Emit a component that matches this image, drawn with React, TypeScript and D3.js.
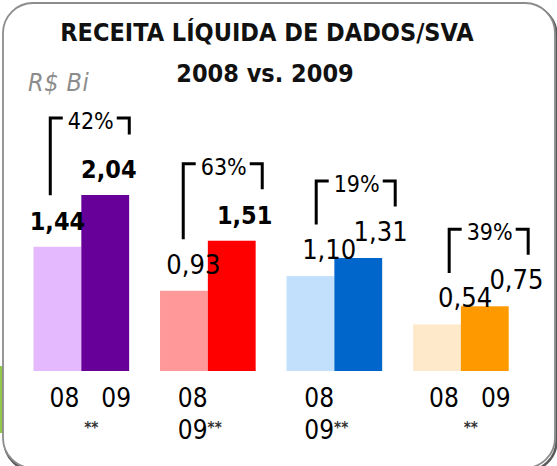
import React from "react";
import * as d3 from "d3";

const categories = ["G1", "G2", "G3", "G4"];
const series = ["08", "09"];
const values08 = [1.44, 0.93, 1.1, 0.54];
const values09 = [2.04, 1.51, 1.31, 0.75];
const valueLabels08 = ["1,44", "0,93", "1,10", "0,54"];
const valueLabels09 = ["2,04", "1,51", "1,31", "0,75"];
const growthLabels = ["42%", "63%", "19%", "39%"];
const lightColors = ["#E5B9FD", "#FF9999", "#C2E0FC", "#FFE9CB"];
const darkColors = ["#660099", "#FF0000", "#0066CC", "#FF9900"];
// category labels: two layouts (single line "08 09" + "**" below, or wrapped)
const catLabelWrapped = [false, true, true, false];
const titleLines = ["RECEITA LÍQUIDA DE DADOS/SVA", "2008 vs. 2009"];
const unitLabel = "R$ Bi";
const boldLabels = ["1,44", "2,04", "1,51"];

const W = 557;
const H = 466;
const FONT = "'DejaVu Sans Condensed', 'DejaVu Sans', sans-serif";

export default function App() {
  const x = d3.scaleBand<string>().domain(categories).range([33.5, 508.7]).paddingInner(0.244).paddingOuter(0);
  const xi = d3.scaleBand<string>().domain(series).range([0, x.bandwidth()]).padding(0);
  const y = d3.scaleLinear().domain([0, 2.04]).range([371, 195]);

  const labelX = (c: number) => c + (c - 57) * 0.074;
  const bracketX = (c: number) => c * 1.051 + 4.3;

  return (
    <svg width={W} height={H} style={{ position: "absolute", left: 0, top: 0, fontFamily: FONT, fontStretch: "condensed" }}>
      <rect x={0} y={0} width={W} height={H} fill="#fff" />
      {/* green strip at left */}
      <rect x={0} y={366} width={3} height={67} fill="#93C94A" />
      {/* frame with shadow */}
      <rect x={4.5} y={5} width={552} height={466} rx={30} ry={30} fill="none" stroke="#5a5a5a" strokeWidth={2.5} />
      <rect x={3} y={3} width={552} height={465} rx={30} ry={30} fill="#fff" stroke="#8c8c8c" strokeWidth={1.8} />

      {/* title */}
      <text x={267} y={41} textAnchor="middle" fontSize={25} fontWeight="bold" fill="#111">{titleLines[0]}</text>
      <text x={265} y={82} textAnchor="middle" fontSize={25} fontWeight="bold" fill="#111">{titleLines[1]}</text>
      <text x={28} y={91} fontSize={25} fontStyle="italic" fill="#8c8c8c" letterSpacing={0.5}>{unitLabel}</text>

      {categories.map((cat, i) => {
        const gx = x(cat)!;
        const gc = gx + x.bandwidth() / 2;
        const x08 = gx + xi("08")!;
        const x09 = gx + xi("09")!;
        const bw = xi.bandwidth();
        const c08 = x08 + bw / 2;
        const c09 = x09 + bw / 2;
        const top = y(values09[i]) - 77;
        const leftBottom = y(values08[i]) - 53;
        const rightBottom = top + (i === 0 ? 15 : 24);
        const bc = bracketX(gc);
        const bl = bc - 39.5;
        const br = bc + 39.5;
        const isB08 = boldLabels.includes(valueLabels08[i]);
        const isB09 = boldLabels.includes(valueLabels09[i]);
        return (
          <g key={cat}>
            <rect x={x08} y={y(values08[i])} width={bw} height={y(0) - y(values08[i])} fill={lightColors[i]} />
            <rect x={x09} y={y(values09[i])} width={bw} height={y(0) - y(values09[i])} fill={darkColors[i]} />
            <text x={labelX(c08)} y={y(values08[i]) - 17} textAnchor="middle" fontSize={isB08 ? 25 : 27}
              fontWeight={isB08 ? "bold" : "normal"} fill="#000">{valueLabels08[i]}</text>
            <text x={labelX(c09)} y={y(values09[i]) - 17} textAnchor="middle" fontSize={isB09 ? 25 : 27}
              fontWeight={isB09 ? "bold" : "normal"} fill="#000">{valueLabels09[i]}</text>
            {/* growth bracket */}
            <path d={`M${bl},${leftBottom} V${top} H${bl + 11}`} fill="none" stroke="#000" strokeWidth={3} strokeLinejoin="miter" strokeLinecap="square" />
            <path d={`M${br - 11},${top} H${br} V${rightBottom}`} fill="none" stroke="#000" strokeWidth={3} strokeLinejoin="miter" strokeLinecap="square" />
            <text x={bc + 1} y={top + 11} textAnchor="middle" fontSize={23} fill="#000">{growthLabels[i]}</text>
            {/* category labels */}
            {catLabelWrapped[i] ? (
              <g>
                <text x={gc - 30} y={407} fontSize={26} fill="#000">{series[0]}</text>
                <text x={gc - 30} y={439} fontSize={26} fill="#000">
                  {series[1]}
                  <tspan fontSize={15} fontWeight="bold" dy={-6} fill="#333">**</tspan>
                </text>
              </g>
            ) : (
              <g>
                <text x={c08 + 7} y={407} textAnchor="middle" fontSize={26} fill="#000">{series[0]}</text>
                <text x={c09 + 11} y={407} textAnchor="middle" fontSize={26} fill="#000">{series[1]}</text>
                <text x={gc + 10} y={433} textAnchor="middle" fontSize={15} fontWeight="bold" fill="#333">**</text>
              </g>
            )}
          </g>
        );
      })}
    </svg>
  );
}
